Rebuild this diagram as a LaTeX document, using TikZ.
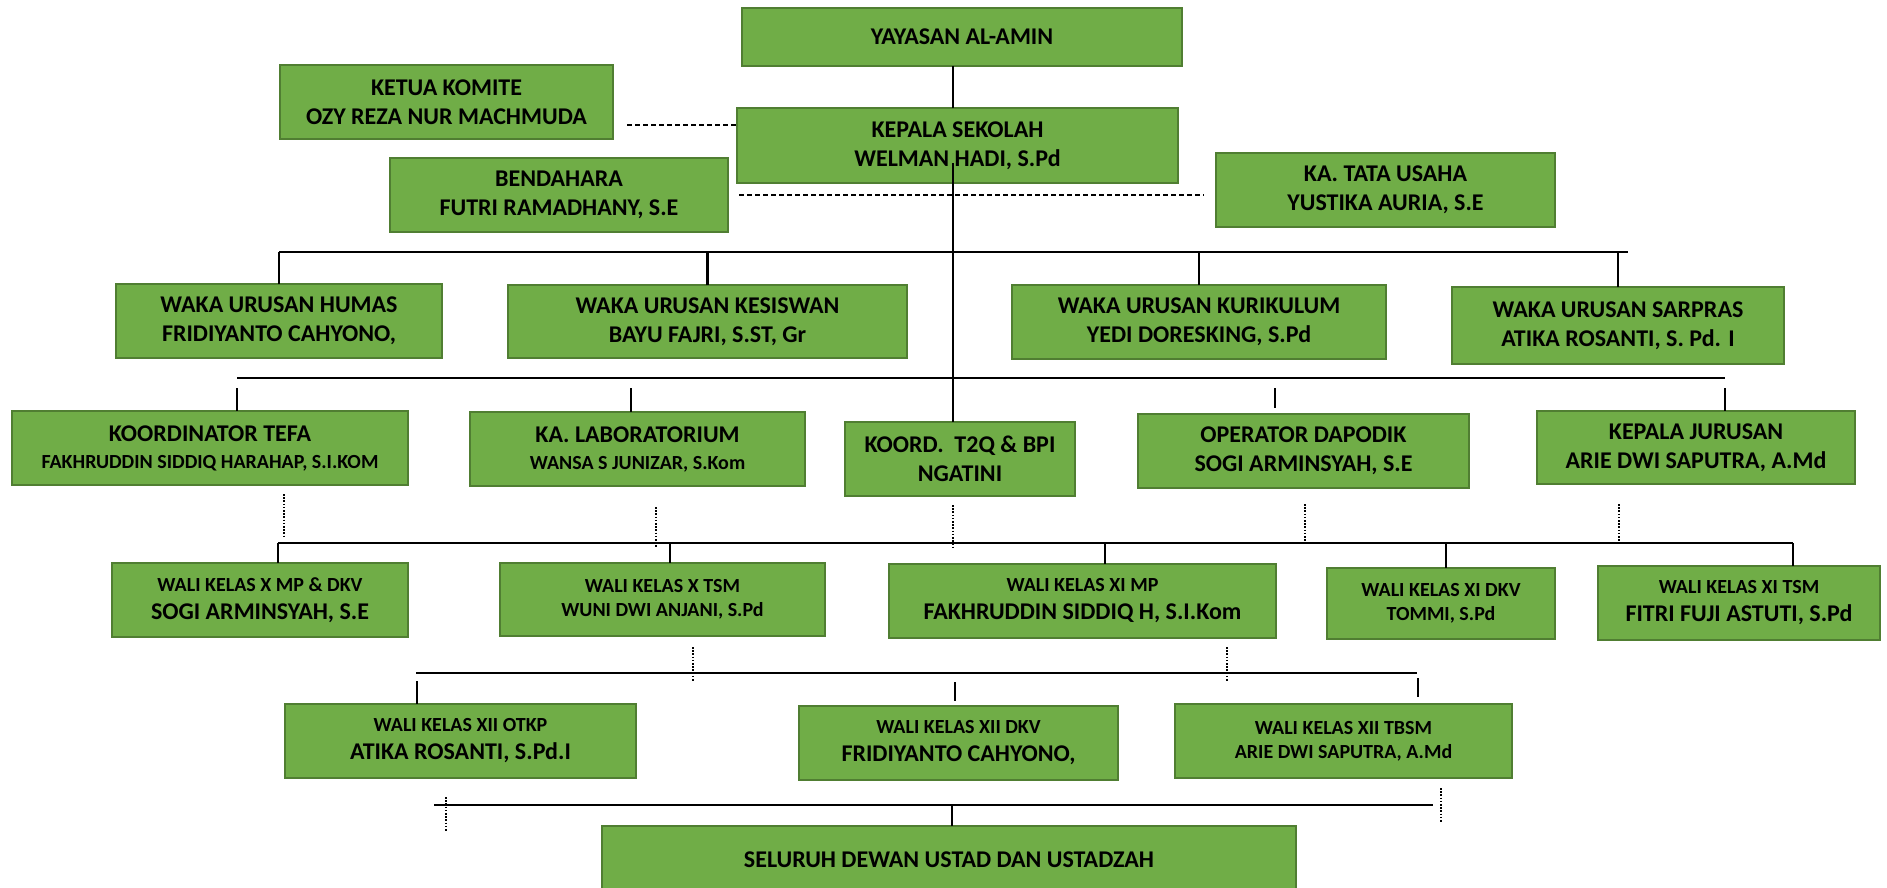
\documentclass[tikz,border=0pt]{standalone}
\usepackage{fontspec}
\setmainfont{Carlito}
\definecolor{boxfill}{HTML}{70AD47}
\definecolor{boxline}{HTML}{507E32}
\newcommand\Lg{\fontsize{24}{29}\selectfont}
\newcommand\Sm{\fontsize{20}{24}\selectfont}
\newcommand\obox[7][]{\node[orgbox, #1, minimum width={(#5-#3)*1pt}, minimum height={(#6-#4)*1pt}] (#2) at ({(#3+#5)/2},{(#4+#6)/2}) {#7};}
\tikzset{
  orgbox/.style={draw=boxline, line width=2.2pt, fill=boxfill, inner sep=0pt, outer sep=0pt, align=center, font=\bfseries\Lg, text=black},
  smallbox/.style={font=\bfseries\Sm},
  conn/.style={draw=black, line width=2.6pt},
  dotconn/.style={draw=black, line width=2pt, dash pattern=on 1.6pt off 1.6pt},
  dashconn/.style={draw=black, line width=1.8pt, dash pattern=on 5pt off 3pt}
}
\begin{document}
\begin{tikzpicture}[x=1pt,y=-1pt]
\useasboundingbox (0,0) rectangle (1887,888);
\clip (0,0) rectangle (1887,888);
\fill[white] (0,0) rectangle (1887,888);
% boxes
\obox{yay}{742}{8}{1182}{66}{YAYASAN AL-AMIN}
\obox{ketua}{280}{65}{613}{139}{KETUA KOMITE\\OZY REZA NUR MACHMUDA}
\obox{kepala}{737}{108}{1178}{183}{KEPALA SEKOLAH\\WELMAN HADI, S.Pd}
\obox{bend}{390}{158}{728}{232}{BENDAHARA\\FUTRI RAMADHANY, S.E}
\obox{tata}{1216}{153}{1555}{227}{KA. TATA USAHA\\YUSTIKA AURIA, S.E}
\obox{humas}{116}{284}{442}{358}{WAKA URUSAN HUMAS\\FRIDIYANTO CAHYONO,}
\obox{kesis}{508}{285}{907}{358}{WAKA URUSAN KESISWAN\\BAYU FAJRI, S.ST, Gr}
\obox{kuri}{1012}{285}{1386}{359}{WAKA URUSAN KURIKULUM\\YEDI DORESKING, S.Pd}
\obox{sarpras}{1452}{287}{1784}{364}{WAKA URUSAN SARPRAS\\ATIKA ROSANTI, S. Pd. I}
\obox{tefa}{12}{411}{408}{485}{KOORDINATOR TEFA\\[-2pt]\Sm FAKHRUDDIN SIDDIQ HARAHAP, S.I.KOM}
\obox{lab}{470}{412}{805}{486}{KA. LABORATORIUM\\[-2pt]\Sm WANSA S JUNIZAR, S.Kom}
\obox{koord}{845}{422}{1075}{496}{KOORD.\ \ T2Q \& BPI\\NGATINI}
\obox{oper}{1138}{414}{1469}{488}{OPERATOR DAPODIK\\SOGI ARMINSYAH, S.E}
\obox{jur}{1537}{411}{1855}{484}{KEPALA JURUSAN\\ARIE DWI SAPUTRA, A.Md}
\obox{wxmp}{112}{563}{408}{637}{\Sm WALI KELAS X MP \& DKV\\[-1pt]SOGI ARMINSYAH, S.E}
\obox[smallbox]{wxtsm}{500}{563}{825}{636}{WALI KELAS X TSM\\WUNI DWI ANJANI, S.Pd}
\obox{wximp}{889}{564}{1276}{638}{\Sm WALI KELAS XI MP\\[-1pt]FAKHRUDDIN SIDDIQ H, S.I.Kom}
\obox[smallbox]{wxidkv}{1327}{568}{1555}{639}{WALI KELAS XI DKV\\TOMMI, S.Pd}
\obox{wxitsm}{1598}{566}{1880}{640}{\Sm WALI KELAS XI TSM\\[-1pt]FITRI FUJI ASTUTI, S.Pd}
\obox{otkp}{285}{704}{636}{778}{\Sm WALI KELAS XII OTKP\\[-1pt]ATIKA ROSANTI, S.Pd.I}
\obox{xiidkv}{799}{706}{1118}{780}{\Sm WALI KELAS XII DKV\\[-1pt]FRIDIYANTO CAHYONO,}
\obox[smallbox]{tbsm}{1175}{704}{1512}{778}{WALI KELAS XII TBSM\\ARIE DWI SAPUTRA, A.Md}
\obox{all}{602}{826}{1296}{894}{SELURUH DEWAN USTAD DAN USTADZAH}
% coordinates
\coordinate (tx) at (953,0);
\coordinate (trunktop) at (953,163);
\coordinate (b1l) at (279,252);
\coordinate (b1r) at (1628,252);
\coordinate (b2l) at (237,378);
\coordinate (b2r) at (1725,378);
\coordinate (b3l) at (278,543);
\coordinate (b3r) at (1793,543);
\coordinate (b4l) at (416,673);
\coordinate (b4r) at (1417,673);
\coordinate (b5l) at (434,805);
\coordinate (b5r) at (1433,805);
% top connectors
\draw[conn] (yay.south -| tx) -- (kepala.north -| tx);
\draw[conn] (trunktop) -- (koord.north -| tx);
\draw[dashconn] (627,125) coordinate (kd) -- (kd -| kepala.west);
\draw[dashconn] (739,195) coordinate (td) -- ([xshift=-12pt]td -| tata.west);
% bus 1
\draw[conn] (b1l) -- (b1r);
\draw[conn] (humas.north) -- (humas.north |- b1l);
\draw[conn] (kesis.north) -- (kesis.north |- b1l);
\draw[conn] (kuri.north) -- (kuri.north |- b1l);
\draw[conn] (sarpras.north) -- (sarpras.north |- b1l);
% bus 2 and ticks
\draw[conn] (b2l) -- (b2r);
\draw[conn] (237,388) coordinate (t1) -- (t1 |- tefa.north);
\draw[conn] (631,388) coordinate (t2) -- (t2 |- lab.north);
\draw[conn] (1275,388) coordinate (t3) -- ([yshift=6pt]t3 |- oper.north);
\draw[conn] (1725,388) coordinate (t4) -- (t4 |- jur.north);
% dotted from row 3
\draw[dotconn] (284,494) -- (284,536);
\draw[dotconn] (656,507) -- (656,548);
\draw[dotconn] (953,505) -- (953,547);
\draw[dotconn] (1305,504) -- (1305,545);
\draw[dotconn] (1619,504) -- (1619,543);
% bus 3
\draw[conn] (b3l) -- (b3r);
\draw[conn] (b3l) -- (b3l |- wxmp.north);
\draw[conn] (670,543) coordinate (c2) -- (c2 |- wxtsm.north);
\draw[conn] (1105,543) coordinate (c3) -- (c3 |- wximp.north);
\draw[conn] (1446,543) coordinate (c4) -- (c4 |- wxidkv.north);
\draw[conn] (b3r) -- (b3r |- wxitsm.north);
% dotted from row 4
\draw[dotconn] (693,647) -- (693,681);
\draw[dotconn] (1227,647) -- (1227,681);
% bus 4
\draw[conn] (b4l) -- (b4r);
\draw[conn] (417,681) coordinate (e1) -- (e1 |- otkp.north);
\draw[conn] (955,682) coordinate (e2) -- ([yshift=5pt]e2 |- xiidkv.north);
\draw[conn] (1418,678) coordinate (e3) -- ([yshift=7pt]e3 |- tbsm.north);
% bus 5
\draw[conn] (b5l) -- (b5r);
\draw[dotconn] (446,797) -- (446,831);
\draw[dotconn] (1441,788) -- (1441,822);
\draw[conn] (952,805) coordinate (f1) -- (f1 |- all.north);
\end{tikzpicture}
\end{document}
